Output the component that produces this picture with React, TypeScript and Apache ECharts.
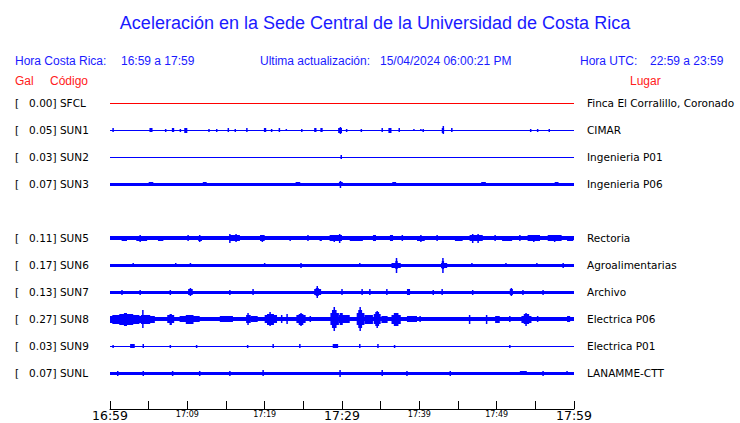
import React, { useEffect, useRef } from 'react';
import * as echarts from 'echarts';

// ---------- data ----------
const codes = ['SFCL', 'SUN1', 'SUN2', 'SUN3', '', 'SUN5', 'SUN6', 'SUN7', 'SUN8', 'SUN9', 'SUNL'];
const peakGal: (number | null)[] = [0.0, 0.05, 0.03, 0.07, null, 0.11, 0.17, 0.13, 0.27, 0.03, 0.07];
const places = [
  'Finca El Corralillo, Coronado', 'CIMAR', 'Ingenieria P01', 'Ingenieria P06', '',
  'Rectoria', 'Agroalimentarias', 'Archivo', 'Electrica P06', 'Electrica P01', 'LANAMME-CTT',
];
// background half-amplitude of each trace (amplitude units, 27 per row)
const baseAmp: (number | null)[] = [0.5, 0.55, 0.5, 1.4, null, 2, 1.3, 1.7, 2, 0.55, 1.5];

// events: [start minute, end minute, half-amplitude]; minutes counted from 16:59
const sfclEvents: number[][] = [];
const sun1Events: number[][] = [
  [0.4, 0.4, 2], [5.1, 5.5, 2], [7.2, 7.2, 1.5], [8.0, 8.3, 2], [9.1, 9.1, 1.5], [9.6, 10.0, 2.5],
  [12.8, 12.8, 1.5], [13.8, 13.8, 1.5], [15.3, 15.3, 2], [16.2, 16.2, 1.5], [17.7, 17.7, 2],
  [19.9, 20.2, 2], [20.9, 20.9, 1.5], [21.9, 21.9, 2], [22.8, 22.8, 1.2], [24.8, 24.8, 1.5],
  [26.4, 26.7, 2], [27.2, 27.5, 2], [29.5, 30.0, 2.5], [29.8, 29.8, 3.5], [30.6, 30.6, 1.5],
  [32.5, 32.5, 1.5], [35.2, 35.2, 2], [36.0, 36.4, 2.5], [37.4, 37.4, 2], [39.3, 39.3, 1.2],
  [40.2, 40.2, 1.2], [40.5, 40.5, 1.5], [42.9, 43.2, 2.5], [43.1, 43.1, 4], [44.1, 44.3, 2],
  [54.4, 54.4, 1.5], [55.3, 55.3, 1.5], [56.8, 56.8, 1.5],
];
const sun2Events: number[][] = [[29.8, 30.0, 2]];
const sun3Events: number[][] = [
  [5.0, 5.6, 2], [12.0, 12.5, 1.8], [24.0, 24.6, 1.8], [29.6, 30.1, 2.2], [29.8, 29.8, 3.7],
  [36.5, 37.0, 1.8], [48.0, 48.6, 1.8], [57.5, 58.0, 1.8],
];
const sun5Events: number[][] = [
  [1.5, 2.2, 2.7], [3.4, 4.8, 2.7], [3.9, 3.9, 3.5], [6.2, 6.9, 2.7], [10.1, 10.1, 3], [11.4, 11.9, 2.7],
  [11.6, 11.6, 3.5], [15.5, 16.8, 2.8], [15.5, 15.5, 4.5], [16.3, 16.3, 4], [19.4, 20.0, 2.8],
  [19.7, 19.7, 3.5], [23.3, 23.3, 2.5], [25.6, 25.6, 3], [27.1, 27.4, 2.7], [28.4, 30.0, 2.8],
  [29.7, 29.7, 4.7], [29.0, 29.0, 3.5], [31.0, 32.7, 2.6], [34.0, 34.4, 3], [36.2, 36.6, 3],
  [37.8, 37.8, 3], [39.7, 40.7, 2.7], [40.2, 40.2, 3.5], [42.3, 42.3, 3], [44.6, 45.6, 2.6],
  [46.5, 48.2, 2.8], [46.9, 46.9, 4.5], [47.6, 47.6, 4.5], [49.8, 49.8, 3], [50.7, 52.0, 2.6],
  [53.0, 53.0, 3], [54.0, 55.6, 2.8], [54.8, 54.8, 3.5], [56.6, 58.4, 2.8], [57.5, 57.5, 3.5],
  [59.1, 59.9, 2.6],
];
const sun6Events: number[][] = [
  [3.0, 3.0, 2], [8.5, 8.5, 2], [10.4, 10.4, 2], [20.0, 20.0, 2], [24.7, 24.7, 2.5], [32.3, 32.3, 2],
  [36.4, 37.6, 2.5], [36.9, 37.2, 4], [37.0, 37.1, 7.5], [42.8, 43.6, 2.5], [42.9, 43.2, 4],
  [43.0, 43.1, 7.5], [46.8, 46.8, 2], [51.2, 51.2, 2], [55.2, 55.2, 2], [58.6, 58.6, 2.5],
];
const sun7Events: number[][] = [
  [1.55, 1.55, 2.7], [3.9, 3.9, 2.7], [7.8, 7.8, 2.7], [10.1, 10.7, 3], [10.4, 10.4, 3.8], [15.5, 15.5, 2.7],
  [18.5, 18.5, 3], [26.4, 27.3, 3], [26.6, 27.0, 4], [26.8, 26.8, 6], [30.0, 30.0, 3], [32.6, 32.6, 3],
  [33.6, 33.6, 3], [35.8, 35.8, 3], [38.4, 38.8, 3], [41.8, 41.8, 2.7], [42.9, 43.0, 3],
  [46.9, 46.9, 2.7], [51.7, 52.1, 3], [51.9, 51.9, 3.8], [53.4, 53.4, 2.7], [56.0, 56.0, 2.7],
];
const sun8Events: number[][] = [
  [0.0, 5.8, 3.5], [0.3, 3.8, 4.5], [1.2, 3.0, 5.5], [1.8, 2.2, 6.5], [4.0, 5.2, 4.5], [4.2, 4.3, 9],
  [7.4, 8.3, 4], [7.7, 8.0, 5.5], [9.0, 11.6, 3], [9.8, 10.8, 4.5], [14.2, 15.9, 2.8],
  [17.6, 18.2, 4], [17.8, 17.9, 6], [18.2, 19.1, 3], [20.0, 21.6, 4], [20.3, 21.2, 5.5],
  [20.6, 20.8, 7], [22.2, 22.2, 4], [22.9, 22.9, 5], [24.1, 25.3, 4], [24.4, 25.0, 5.5],
  [24.6, 24.8, 6.5], [25.9, 25.9, 3], [28.5, 29.6, 6], [28.7, 29.3, 9], [28.9, 29.1, 12],
  [29.6, 31.0, 4], [29.7, 30.1, 6], [31.9, 32.9, 6], [32.1, 32.6, 9], [32.3, 32.4, 12],
  [32.9, 34.0, 4.5], [34.1, 35.0, 5], [34.3, 34.8, 7], [34.5, 34.6, 8.5], [35.1, 35.9, 3.5],
  [36.4, 37.6, 4.5], [36.7, 37.3, 6.5], [38.4, 39.7, 2.8], [40.1, 40.1, 3], [46.5, 46.5, 4.5],
  [48.7, 48.7, 4.5], [49.8, 50.4, 3.5], [51.7, 51.7, 3], [53.2, 54.5, 3.5], [53.5, 54.2, 5],
  [53.7, 53.9, 6.5], [55.3, 55.3, 3], [59.1, 59.5, 3],
];
const sun9Events: number[][] = [
  [0.4, 0.4, 1.5], [2.6, 3.2, 2], [4.3, 4.3, 2], [7.8, 7.8, 1.5], [11.2, 11.2, 1.5],
  [17.8, 17.8, 1.5], [21.1, 21.1, 2], [24.5, 24.6, 2], [28.8, 29.5, 2], [32.3, 32.3, 2],
  [34.6, 34.7, 2], [36.8, 36.8, 1.5], [51.7, 51.7, 1.5],
];
const sunlEvents: number[][] = [
  [1.0, 1.0, 2.5], [4.3, 4.3, 2.5], [8.1, 8.1, 2.5], [11.6, 11.6, 2.5], [15.5, 15.5, 2.5],
  [19.8, 19.8, 3], [29.7, 29.8, 3.7], [35.2, 35.2, 3], [38.4, 38.4, 2.5], [44.0, 44.0, 2.5],
  [53.0, 53.9, 2.2], [56.0, 56.0, 2.5], [59.1, 59.1, 2],
];
const eventsByRow: (number[][] | null)[] = [
  sfclEvents, sun1Events, sun2Events, sun3Events, null,
  sun5Events, sun6Events, sun7Events, sun8Events, sun9Events, sunlEvents,
];
const traceColors = ['#ff0000', '#0000ff', '#0000ff', '#0000ff', '#0000ff', '#0000ff', '#0000ff', '#0000ff', '#0000ff', '#0000ff', '#0000ff'];

const tickMinutes = [0, 10, 20, 30, 40, 50, 60];
const tickLabels = ['16:59', '17:09', '17:19', '17:29', '17:39', '17:49', '17:59'];
const majorLabels = ['16:59', '17:29', '17:59'];

const ROW_AMP = 27; // amplitude units per row
const BLUE_TXT = '#1a1aff';
const RED_TXT = '#ff2020';

function makeRender(color: string) {
  return (params: any, api: any) => {
    const row = api.value(3);
    const a = api.coord([api.value(0), row]);
    const b = api.coord([api.value(1), row]);
    const band = api.size([0, 1])[1];
    const h = (api.value(2) * band) / ROW_AMP;
    const height = Math.max(1, Math.round(2 * h));
    const y = Math.round(a[1] - height / 2);
    const single = b[0] - a[0] < 1.5;
    const x = single ? (a[0] + b[0]) / 2 - 0.75 : a[0];
    const w = single ? 1.5 : b[0] - a[0];
    return { type: 'rect', shape: { x, y, width: w, height }, style: { fill: color } };
  };
}

export default function App() {
  const ref = useRef<HTMLDivElement>(null);
  useEffect(() => {
    if (!ref.current) return;
    const chart = echarts.init(ref.current, null, { renderer: 'svg' });
    const leftLabels = codes.map((c, i) => (peakGal[i] === null ? '' : `[   ${(peakGal[i] as number).toFixed(2)}] ${c}`));
    const series: any[] = [];
    eventsByRow.forEach((ev, row) => {
      if (ev === null || baseAmp[row] === null) return;
      const data = [[0, 60, baseAmp[row] as number, row], ...ev.map((e) => [e[0], e[1], e[2], row])];
      series.push({
        type: 'custom',
        name: codes[row],
        renderItem: makeRender(traceColors[row]),
        data,
        encode: { x: [0, 1], y: 3 },
        xAxisIndex: 0,
        yAxisIndex: 0,
        silent: true,
        clip: false,
      });
    });
    const hdrFont = '12px "Liberation Sans", Arial, sans-serif';
    const txt = (x: number, y: number, text: string, fill: string, font = hdrFont, align = 'left') => ({
      type: 'text', x, y, silent: true,
      style: { text, fill, font, textAlign: align, textVerticalAlign: 'middle' },
    });
    chart.setOption({
      animation: false,
      backgroundColor: '#ffffff',
      grid: { left: 110, right: 166, top: 89.5, bottom: 36.5, containLabel: false },
      xAxis: {
        type: 'value', min: 0, max: 60, interval: 5, offset: 22.5,
        axisLine: { show: true, lineStyle: { color: '#000', width: 1 } },
        axisTick: { show: true, inside: true, length: 8, lineStyle: { color: '#000', width: 1 } },
        splitLine: { show: false },
        axisLabel: {
          margin: 0, showMinLabel: true, showMaxLabel: true,
          formatter: (v: number) => {
            const i = tickMinutes.indexOf(Math.round(v));
            if (i < 0) return '';
            const lab = tickLabels[i];
            return majorLabels.includes(lab) ? `{big|${lab}}` : `{small|${lab}}`;
          },
          rich: {
            big: { fontSize: 12.5, fontFamily: 'DejaVu Sans', color: '#000', lineHeight: 13 },
            small: { fontSize: 8, fontFamily: 'DejaVu Sans', color: '#000', lineHeight: 11 },
          },
        },
      },
      yAxis: [
        {
          type: 'category', inverse: true, data: leftLabels,
          axisLine: { show: false }, axisTick: { show: false }, splitLine: { show: false },
          axisLabel: { interval: 0, align: 'left', margin: 95, fontFamily: 'DejaVu Sans', fontSize: 10.5, color: '#000' },
        },
        {
          type: 'category', inverse: true, position: 'right', data: places,
          axisLine: { show: false }, axisTick: { show: false }, splitLine: { show: false },
          axisLabel: { interval: 0, align: 'left', margin: 13, fontFamily: 'DejaVu Sans', fontSize: 10.5, color: '#000' },
        },
      ],
      series,
      graphic: [
        txt(375, 23, 'Aceleración en la Sede Central de la Universidad de Costa Rica', BLUE_TXT, '18px "Liberation Sans", Arial, sans-serif', 'center'),
        txt(15, 61, 'Hora Costa Rica:', BLUE_TXT),
        txt(121, 61, '16:59 a 17:59', BLUE_TXT),
        txt(260, 61, 'Ultima actualización:', BLUE_TXT),
        txt(380, 61, '15/04/2024 06:00:21 PM', BLUE_TXT),
        txt(580, 61, 'Hora UTC:', BLUE_TXT),
        txt(650, 61, '22:59 a 23:59', BLUE_TXT),
        txt(15, 81, 'Gal', RED_TXT),
        txt(50, 81, 'Código', RED_TXT),
        txt(630, 81, 'Lugar', RED_TXT),
      ],
    });
    return () => chart.dispose();
  }, []);
  return <div ref={ref} style={{ position: 'fixed', left: 0, top: 0, width: 740, height: 423, background: '#fff' }} />;
}
